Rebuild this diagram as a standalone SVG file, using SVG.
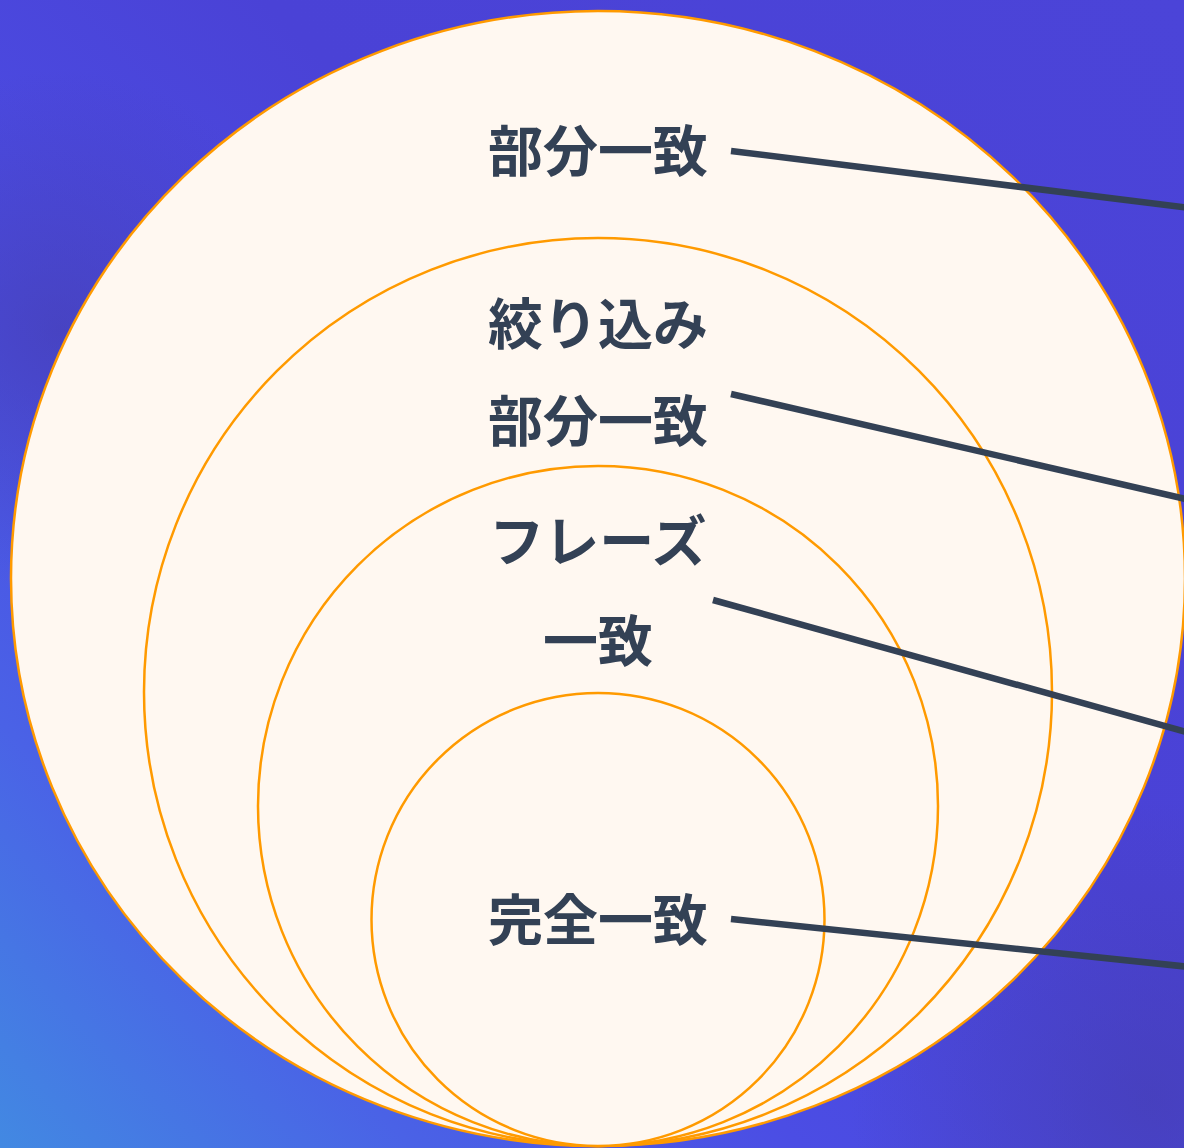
<svg xmlns="http://www.w3.org/2000/svg" width="1184" height="1148" viewBox="0 0 1184 1148">
  <defs>
    <linearGradient id="bg" x1="0" y1="1148" x2="1184" y2="0" gradientUnits="userSpaceOnUse">
      <stop offset="0" stop-color="#4289E2"/>
      <stop offset="0.18" stop-color="#4A62E6"/>
      <stop offset="0.35" stop-color="#4B4DE4"/>
      <stop offset="0.6" stop-color="#4A42D6"/>
      <stop offset="1" stop-color="#4B44D8"/>
    </linearGradient>
    <radialGradient id="shade1" cx="60" cy="330" r="260" gradientUnits="userSpaceOnUse">
      <stop offset="0" stop-color="#443CA8" stop-opacity="0.55"/>
      <stop offset="1" stop-color="#443CA8" stop-opacity="0"/>
    </radialGradient>
    <radialGradient id="shade2" cx="1150" cy="1100" r="300" gradientUnits="userSpaceOnUse">
      <stop offset="0" stop-color="#443CA8" stop-opacity="0.55"/>
      <stop offset="1" stop-color="#443CA8" stop-opacity="0"/>
    </radialGradient>
  </defs>
  <style>
    .ring { fill: #FFF8F1; stroke: #FF9A00; stroke-width: 2.5; }
    .lbl { font-family: "Noto Sans CJK JP", "Noto Sans", sans-serif; font-weight: 700; font-size: 55px; fill: #334155; text-anchor: middle; }
    .conn { stroke: #334155; stroke-width: 6.5; fill: none; }
  </style>
  <rect width="1184" height="1148" fill="url(#bg)"/>
  <rect width="1184" height="1148" fill="url(#shade1)"/>
  <rect width="1184" height="1148" fill="url(#shade2)"/>

  <g id="partial">
    <ellipse class="ring" cx="598" cy="578.5" rx="587" ry="567.5"/>
    <text class="lbl" x="598" y="171">部分一致</text>
  </g>
  <g id="narrowed-partial">
    <circle class="ring" cx="598" cy="692" r="454"/>
    <text class="lbl" x="598" y="344">絞り込み</text>
    <text class="lbl" x="598" y="441">部分一致</text>
  </g>
  <g id="phrase">
    <circle class="ring" cx="598" cy="806" r="340"/>
    <text class="lbl" x="598" y="561">フレーズ</text>
    <text class="lbl" x="598" y="661">一致</text>
  </g>
  <g id="exact">
    <circle class="ring" cx="598" cy="919.5" r="226.5"/>
    <text class="lbl" x="598" y="940">完全一致</text>
  </g>

  <g id="connectors">
    <line class="conn" x1="731" y1="151" x2="1190" y2="208"/>
    <line class="conn" x1="731" y1="394" x2="1190" y2="500"/>
    <line class="conn" x1="713" y1="600" x2="1190" y2="733"/>
    <line class="conn" x1="731" y1="919" x2="1190" y2="967"/>
  </g>
</svg>
